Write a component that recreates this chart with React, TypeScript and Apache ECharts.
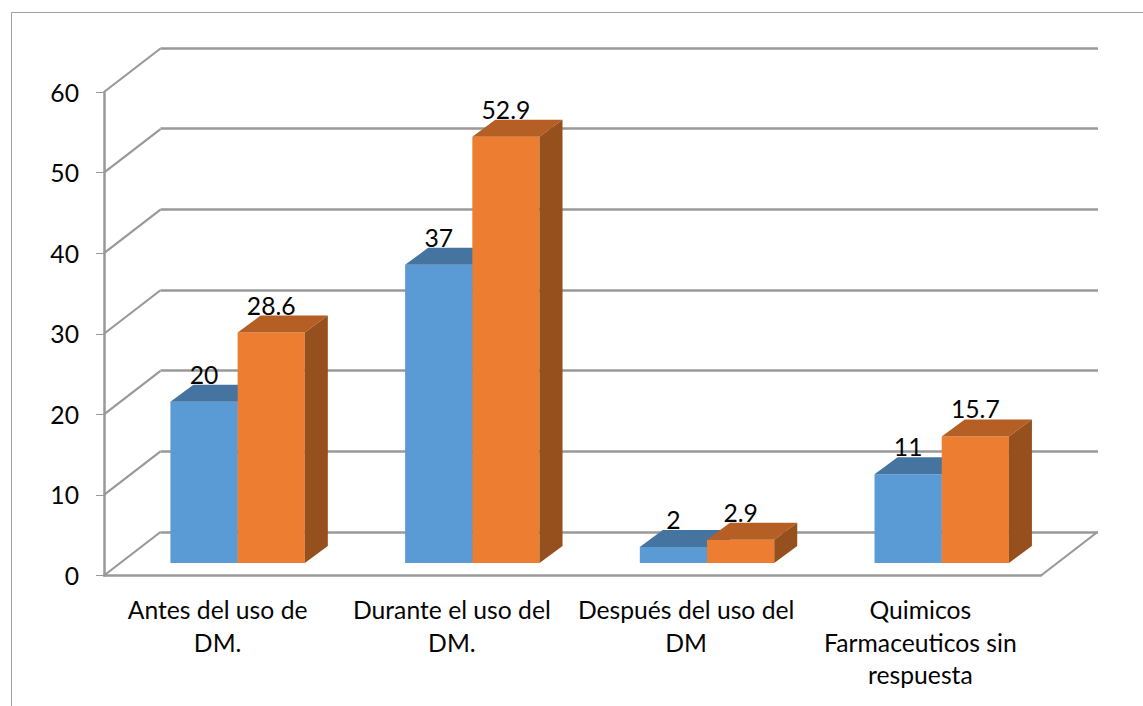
import React, { useEffect, useRef } from "react";
import * as echarts from "echarts";

const categories = [
  "Antes del uso de\nDM.",
  "Durante el uso del\nDM.",
  "Después del uso del\nDM",
  "Quimicos\nFarmaceuticos sin\nrespuesta",
];
const seriesBlue = [20, 37, 2, 11];
const seriesOrange = [28.6, 52.9, 2.9, 15.7];
const wallTicks = [0, 1, 2, 3, 4, 5, 6];

const FONT = "Lato, 'Open Sans', sans-serif";
const GRID_COLOR = "#999999";
const TEXT_COLOR = "#050505";
const FONT_SIZE = 24.7;

// Projection of the chart's depth: the wall sits up and to the right of the front plane.
const WALL_DX = 56.5;
const WALL_DY = -43.5;
const BAR_DX = 23;
const BAR_DY = -17;
const BAR_WIDTH = 67.2;
const BAR_LIFT = -12.5;
const GROUP_SHIFT = 16.5;
const GROUP_DRIFT = 0.45;

const shades = {
  blue: { front: "#5b9bd5", top: "#44749f", side: "#3a6a94" },
  orange: { front: "#ed7d31", top: "#b55f25", side: "#96501d" },
};

// One box of the grouped column: front face, top face, side face and its value text.
function boxRenderer(slot: number, tone: { front: string; top: string; side: string }) {
  return (params: any, api: any) => {
    const value = api.value(1);
    const center = api.coord([api.value(0), 0]);
    const head = api.coord([api.value(0), value]);
    const x0 = center[0] + GROUP_SHIFT + api.value(0) * GROUP_DRIFT + (slot - 1) * BAR_WIDTH;
    const x1 = x0 + BAR_WIDTH;
    const yb = center[1] + BAR_LIFT;
    const yt = head[1] + BAR_LIFT;
    const children: any[] = [
      {
        type: "polygon",
        shape: { points: [[x0, yb], [x1, yb], [x1, yt], [x0, yt]] },
        style: { fill: tone.front },
      },
      {
        type: "polygon",
        shape: { points: [[x0, yt], [x1, yt], [x1 + BAR_DX, yt + BAR_DY], [x0 + BAR_DX, yt + BAR_DY]] },
        style: { fill: tone.top },
      },
      {
        type: "polygon",
        shape: { points: [[x1, yb], [x1 + BAR_DX, yb + BAR_DY], [x1 + BAR_DX, yt + BAR_DY], [x1, yt]] },
        style: { fill: tone.side },
      },
      {
        type: "text",
        x: x0 + BAR_WIDTH / 2,
        y: yt - 27.5,
        style: {
          text: String(value),
          fill: TEXT_COLOR,
          font: `${FONT_SIZE}px ${FONT}`,
          align: "center",
          verticalAlign: "middle",
        },
      },
    ];
    return { type: "group", children };
  };
}

// Slanted lines joining each tick of the value axis to the back wall, plus the floor's right edge.
function depthRenderer(params: any, api: any) {
  const axisValue = api.value(0);
  const a = api.coord([0, axisValue]);
  const xStart = params.coordSys.x;
  const lines: any[] = [
    {
      type: "line",
      shape: { x1: xStart, y1: a[1], x2: xStart + WALL_DX, y2: a[1] + WALL_DY },
      style: { stroke: GRID_COLOR, lineWidth: 2.2 },
    },
  ];
  if (axisValue === 0) {
    const xEnd = params.coordSys.x + params.coordSys.width;
    lines.push({
      type: "line",
      shape: { x1: xEnd, y1: a[1], x2: xEnd + WALL_DX, y2: a[1] + WALL_DY },
      style: { stroke: GRID_COLOR, lineWidth: 2.2 },
    });
  }
  return { type: "group", children: lines };
}

export default function App() {
  const ref = useRef<HTMLDivElement>(null);
  useEffect(() => {
    const chart = echarts.init(ref.current!, undefined, { renderer: "svg" });
    chart.setOption({
      animation: false,
      backgroundColor: "#ffffff",
      grid: [
        { left: 104, top: 92, width: 937, height: 483.5 },
        { left: 160.5, top: 48, width: 937.5, height: 484 },
      ],
      xAxis: [
        {
          type: "category",
          gridIndex: 0,
          data: categories,
          axisLine: { lineStyle: { color: GRID_COLOR, width: 2.5 } },
          axisTick: { length: 8, lineStyle: { color: GRID_COLOR, width: 1 } },
          axisLabel: {
            color: TEXT_COLOR,
            fontFamily: FONT,
            fontSize: FONT_SIZE,
            lineHeight: 32.5,
            margin: 18,
            interval: 0,
            padding: [0, 7, 0, 0],
          },
        },
        {
          type: "category",
          gridIndex: 1,
          data: categories,
          show: false,
        },
      ],
      yAxis: [
        {
          type: "value",
          gridIndex: 0,
          min: 0,
          max: 60,
          interval: 10,
          axisLine: { show: true, lineStyle: { color: GRID_COLOR, width: 2.5 } },
          axisTick: { show: true, length: 8, lineStyle: { color: GRID_COLOR, width: 1 } },
          splitLine: { show: false },
          axisLabel: {
            color: TEXT_COLOR,
            fontFamily: FONT,
            fontSize: FONT_SIZE,
            margin: 25,
          },
        },
        {
          type: "value",
          gridIndex: 1,
          min: 0,
          max: 60,
          interval: 10,
          axisLine: { show: false },
          axisTick: { show: false },
          axisLabel: { show: false },
          splitLine: { show: true, lineStyle: { color: GRID_COLOR, width: 2.5 } },
        },
      ],
      graphic: [
        {
          type: "polyline",
          shape: { points: [[11.5, 706], [11.5, 12.5], [1143, 12.5]] },
          style: { stroke: "#a0a0a0", fill: "none", lineWidth: 1 },
          silent: true,
        },
      ],
      series: [
        {
          type: "custom",
          name: "depth",
          xAxisIndex: 0,
          yAxisIndex: 0,
          z: 1,
          silent: true,
          encode: { x: -1, y: 0 },
          data: wallTicks.map((t) => [t * 10]),
          renderItem: depthRenderer,
        },
        {
          type: "custom",
          name: "A",
          xAxisIndex: 0,
          yAxisIndex: 0,
          z: 3,
          encode: { x: 0, y: 1 },
          data: seriesBlue.map((v, i) => [i, v]),
          renderItem: boxRenderer(0, shades.blue),
        },
        {
          type: "custom",
          name: "B",
          xAxisIndex: 0,
          yAxisIndex: 0,
          z: 4,
          encode: { x: 0, y: 1 },
          data: seriesOrange.map((v, i) => [i, v]),
          renderItem: boxRenderer(1, shades.orange),
        },
      ],
    });
    return () => chart.dispose();
  }, []);
  return (
    <div
      ref={ref}
      style={{ position: "absolute", left: 0, top: 0, width: 1143, height: 706 }}
    />
  );
}
